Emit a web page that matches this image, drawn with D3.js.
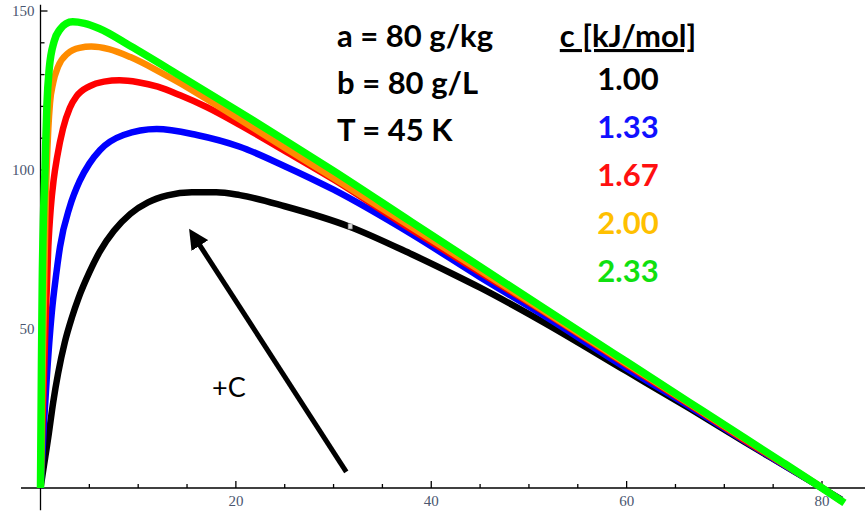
<!DOCTYPE html>
<html>
<head>
<meta charset="utf-8">
<script src="https://cdn.jsdelivr.net/npm/d3@7"></script>
<style>
  body { margin: 0; background: #fff; }
  svg { display: block; }
</style>
</head>
<body>
<svg id="chart"></svg>
<script>
// values, [x, y]
var seriesC100 = [[0,0],[0.2,4],[0.5,10],[0.8,16],[1.3,27],[1.8,36],[2.5,46],[3.2,53.5],[3.9,59.8],[5,67.8],[6.1,74.5],[7.5,80.8],[9.2,86.2],[11,89.8],[13,92],[15.5,93],[18,93],[20.4,92.1],[25,88.6],[31.7,82.1],[38,73.5],[42.2,67.3],[45,63],[51.1,52.8],[60,36.7],[66.5,24.9],[72,14.6],[76,7.3],[80,0],[82,-3.7]];
var seriesC133 = [[0,0],[0.15,8],[0.35,20],[0.63,34],[1.15,55],[1.6,67],[2,75.9],[3,88.5],[4,96.5],[5,102],[6.1,106.3],[8.5,111],[11.9,112.9],[16,111],[20.4,107.3],[25,101.2],[30,93.8],[38,79.8],[45,66.3],[51.1,55],[60,37.6],[66.5,25.5],[72,14.9],[76,7.4],[80,0],[82,-3.9]];
var seriesC167 = [[0,0],[0.1,10],[0.25,25],[0.5,50],[0.8,75.9],[1.05,88],[1.35,97],[1.7,104],[2.3,113],[3,119.5],[3.7,123.2],[5,126.3],[6.5,127.8],[8.1,128.2],[10,127.6],[12,126.2],[14.3,123.5],[17,119.8],[20.4,114.2],[25,106],[30,97],[38,81.2],[45,67.8],[51.1,56.2],[60,38.7],[66.5,26.1],[72,15.2],[76,7.6],[80,0],[82,-4]];
var seriesC200 = [[0,0],[0.1,15],[0.2,35],[0.35,60],[0.5,85],[0.63,100],[0.8,113],[0.97,121],[1.3,127.5],[1.8,132.5],[2.8,136.7],[4,138.4],[5.2,138.8],[7,138],[9.2,135.5],[12,131.2],[14.3,127.3],[17,122.3],[20.4,115.9],[25,107],[30,97.5],[38,82],[45,68.4],[51.1,56.5],[60,39.1],[66.5,26.4],[72,15.6],[76,7.8],[80,0.1],[82,-4.2]];
var seriesC233 = [[0,0],[0.05,20],[0.1,40],[0.18,65],[0.3,85],[0.46,100],[0.65,120],[0.9,132],[1.4,140.5],[2,144.2],[2.6,146],[3.3,146.6],[4.5,146.1],[6,144.5],[9.2,139],[14.3,129.6],[20.4,118.2],[25,109.4],[30,99.7],[38,83.6],[45,69.6],[51.1,57.4],[60,39.7],[66.5,26.8],[72,15.9],[76,8],[80,0],[82.3,-4.7]];

var cLabels = ["1.00", "1.33", "1.67", "2.00", "2.33"];
var paramLabels = ["a = 80 g/kg", "b = 80 g/L", "T = 45 K"];
var xTickValues = [20, 40, 60, 80];
var yTickValues = [50, 100, 150];

var curveColors = ["#000000", "#0000ff", "#ff0000", "#ff8c00", "#00ff00"];
var textColors = ["#000000", "#1010ff", "#ff1010", "#ffc000", "#10e010"];

var width = 865, height = 512;
var svg = d3.select("#chart").attr("width", width).attr("height", height);

var x = d3.scaleLinear().domain([0, 80]).range([40.5, 822]);
var y = d3.scaleLinear().domain([0, 150]).range([488, 11]);

// axes, Mathematica style: inward ticks, crossing at the origin
var gx = svg.append("g").attr("transform", "translate(0," + y(0) + ")");
gx.append("line")
    .attr("x1", x(-2)).attr("x2", 865)
    .attr("stroke", "#000").attr("stroke-width", 1.3);
gx.selectAll(".tk").data(d3.range(5, 85, 5)).enter().append("line")
    .attr("x1", function(d){ return x(d); })
    .attr("x2", function(d){ return x(d); })
    .attr("y1", 0)
    .attr("y2", function(d){ return xTickValues.indexOf(d) >= 0 ? -7 : -4; })
    .attr("stroke", "#000").attr("stroke-width", 1.3);
gx.selectAll(".lb").data(xTickValues).enter().append("text")
    .attr("x", function(d){ return x(d); })
    .attr("y", 18)
    .attr("text-anchor", "middle")
    .style("font", "15px 'Liberation Serif', serif")
    .style("fill", "#4a5670")
    .text(function(d){ return d; });

var gy = svg.append("g").attr("transform", "translate(" + x(0) + ",0)");
gy.append("line")
    .attr("y1", y(-7)).attr("y2", y(152))
    .attr("stroke", "#000").attr("stroke-width", 1.3);
gy.selectAll(".tk").data(d3.range(10, 160, 10)).enter().append("line")
    .attr("y1", function(d){ return y(d); })
    .attr("y2", function(d){ return y(d); })
    .attr("x1", 0)
    .attr("x2", function(d){ return yTickValues.indexOf(d) >= 0 ? 7 : 4; })
    .attr("stroke", "#000").attr("stroke-width", 1.3);
gy.selectAll(".lb").data(yTickValues).enter().append("text")
    .attr("x", -6)
    .attr("y", function(d){ return y(d) + 5; })
    .attr("text-anchor", "end")
    .style("font", "15px 'Liberation Serif', serif")
    .style("fill", "#4a5670")
    .text(function(d){ return d; });

// curves
var line = d3.line()
    .x(function(d){ return x(d[0]); })
    .y(function(d){ return y(d[1]); })
    .curve(d3.curveMonotoneX);

var allSeries = [seriesC100, seriesC133, seriesC167, seriesC200, seriesC233];
svg.append("g").selectAll("path").data(allSeries).enter().append("path")
    .attr("d", line)
    .attr("fill", "none")
    .attr("stroke", function(d, i){ return curveColors[i]; })
    .attr("stroke-width", function(d, i){ return i == 4 ? 7.5 : 6.5; })
    .attr("stroke-linejoin", "round");

// little marker sitting on the black curve
svg.append("rect")
    .attr("x", x(31.7) - 2).attr("y", y(82.1) - 3)
    .attr("width", 4).attr("height", 5)
    .attr("fill", "#ddd").attr("stroke", "#999").attr("stroke-width", 0.7);

// arrow "+C"
var defs = svg.append("defs");
defs.append("marker")
    .attr("id", "head")
    .attr("viewBox", "0 0 10 10")
    .attr("refX", 2).attr("refY", 5)
    .attr("markerWidth", 4).attr("markerHeight", 4)
    .attr("orient", "auto")
  .append("path")
    .attr("d", "M0,0 L10,5 L0,10 Z")
    .attr("fill", "#000");

svg.append("line")
    .attr("x1", x(31.3)).attr("y1", y(5.1))
    .attr("x2", x(16.1)).attr("y2", y(77.3))
    .attr("stroke", "#000").attr("stroke-width", 5)
    .attr("marker-end", "url(#head)");

svg.append("text")
    .attr("x", 212).attr("y", 397)
    .style("font", "27px Lato, 'Open Sans', sans-serif")
    .style("fill", "#000")
    .text("+C");

// parameter block
svg.append("g").selectAll("text").data(paramLabels).enter().append("text")
    .attr("x", 337)
    .attr("y", function(d, i){ return 47 + i * 47; })
    .style("font", "bold 31px Lato, 'Open Sans', sans-serif")
    .style("fill", "#000")
    .text(function(d){ return d; });

// c legend
svg.append("text")
    .attr("x", 628).attr("y", 47)
    .attr("text-anchor", "middle")
    .style("font", "bold 31px Lato, 'Open Sans', sans-serif")
    .style("text-decoration", "underline")
    .style("fill", "#000")
    .text("c [kJ/mol]");

svg.append("g").selectAll("text").data(cLabels).enter().append("text")
    .attr("x", 628)
    .attr("y", function(d, i){ return 90 + i * 48; })
    .attr("text-anchor", "middle")
    .style("font", "bold 31px Lato, 'Open Sans', sans-serif")
    .style("fill", function(d, i){ return textColors[i]; })
    .text(function(d){ return d; });
</script>
</body>
</html>
